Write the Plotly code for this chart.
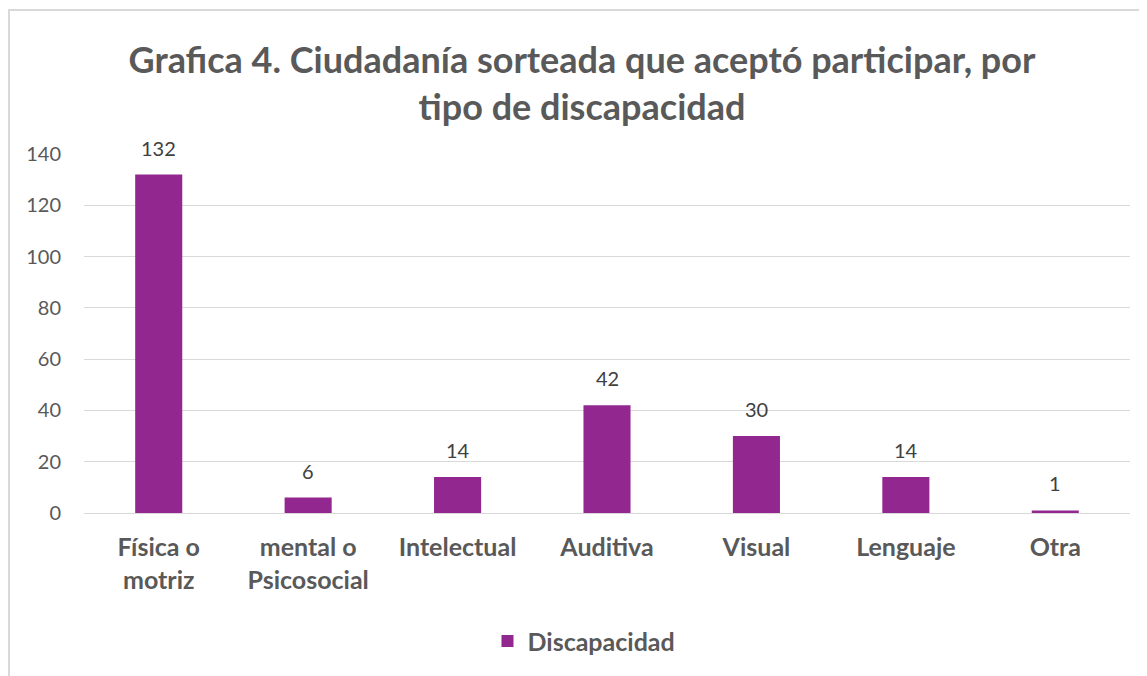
import plotly.graph_objects as go

categories = ["Física o<br>motriz", "mental o<br>Psicosocial", "Intelectual", "Auditiva", "Visual", "Lenguaje", "Otra"]
values = [132, 6, 14, 42, 30, 14, 1]
series_name = "Discapacidad"
title_text = "Grafica 4. Ciudadanía sorteada que aceptó participar, por<br>tipo de discapacidad"
y_ticks = [0, 20, 40, 60, 80, 100, 120, 140]

FONT = "Lato, 'Open Sans', sans-serif"
BAR = "#92278F"
GRAY = "#595959"

W, H = 1139, 668
L, R, T, B = 76, 17, 146, 163
PW = W - L - R
PH = H - T - B

fig = go.Figure()
fig.add_trace(go.Bar(
    x=categories, y=values, name="<b>" + series_name + "</b>",
    marker=dict(color=BAR, line=dict(width=0)),
    showlegend=True,
))

for c, v in zip(categories, values):
    fig.add_annotation(x=c, y=v, text=str(v), showarrow=False,
                       yanchor="middle", yshift=27,
                       font=dict(family=FONT, size=20, color="#404040"))

fig.update_layout(
    width=W, height=H,
    margin=dict(l=L, r=R, t=T, b=B),
    paper_bgcolor="white", plot_bgcolor="white",
    bargap=0.685,
    title=dict(text="<b>" + title_text + "</b>", x=(582 - 8) / W, xanchor="center",
               y=0.902, yanchor="middle",
               font=dict(family=FONT, size=36, color=GRAY)),
    font=dict(family=FONT, color=GRAY),
    legend=dict(orientation="h", x=0.478, xanchor="center", y=-0.357, yanchor="middle",
                font=dict(family=FONT, size=25, color=GRAY)),
    xaxis=dict(showgrid=False, showline=False, zeroline=False, ticks="",
               tickfont=dict(family=FONT, size=25, color=GRAY),
               ticklabelstandoff=17, tickprefix="<b>", ticksuffix="</b>"),
    yaxis=dict(range=[0, 140], tickvals=y_ticks, showgrid=True, gridcolor="#D9D9D9",
               gridwidth=1.3, zeroline=True, zerolinecolor="#D9D9D9", zerolinewidth=1.3,
               showline=False, ticks="",
               tickfont=dict(family=FONT, size=20, color=GRAY),
               ticklabelstandoff=22),
)

fig.add_shape(type="rect", xref="paper", yref="paper",
              x0=(1 - L) / PW, x1=1.2, y0=-0.6, y1=(H - B - 2) / PH,
              line=dict(color="#D9D9D9", width=2), fillcolor="rgba(0,0,0,0)", layer="below")

fig.write_html("out.html")
